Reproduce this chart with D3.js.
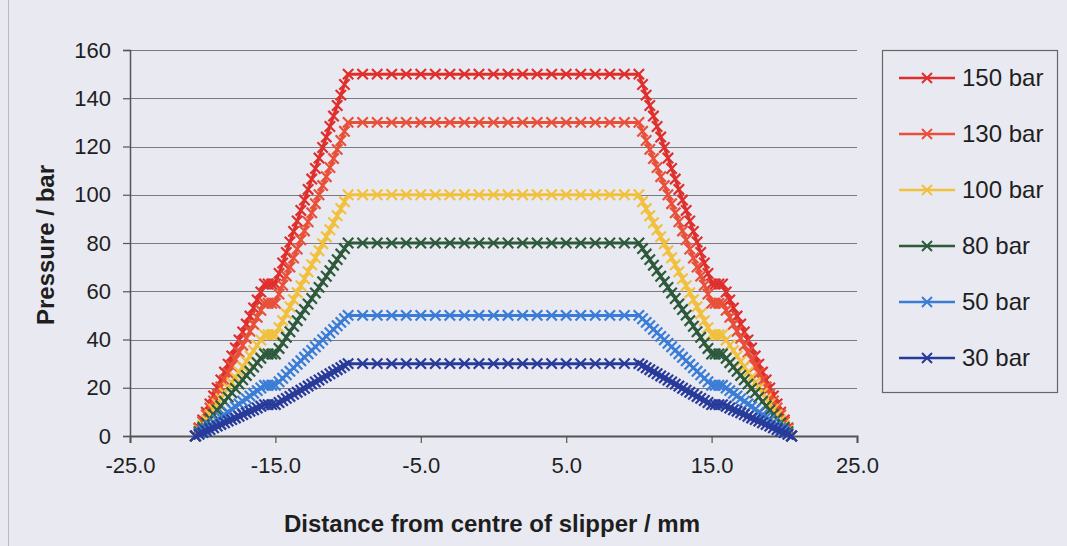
<!DOCTYPE html>
<html><head><meta charset="utf-8">
<script src="https://cdn.jsdelivr.net/npm/d3@7"></script>
<style>
html,body{margin:0;padding:0;background:#e9e9f1;}
svg{display:block;}
text{font-family:"Liberation Sans",Arial,sans-serif;fill:#1e1e1e;}
</style></head><body>
<svg id="chart" width="1067" height="546"></svg>
<script>
// ---- data ----
const distance = [
 -20.5,-20.25,-20,-19.75,-19.5,-19.25,-19,-18.75,-18.5,-18.25,-18,-17.75,-17.5,-17.25,-17,-16.75,-16.5,-16.25,-16,-15.75,
 -15.5,-15.25,-15,
 -14.75,-14.5,-14.25,-14,-13.75,-13.5,-13.25,-13,-12.75,-12.5,-12.25,-12,-11.75,-11.5,-11.25,-11,-10.75,-10.5,-10.25,
 -10,-9,-8,-7,-6,-5,-4,-3,-2,-1,0,1,2,3,4,5,6,7,8,9,10,
 10.25,10.5,10.75,11,11.25,11.5,11.75,12,12.25,12.5,12.75,13,13.25,13.5,13.75,14,14.25,14.5,14.75,
 15,15.25,15.5,
 15.75,16,16.25,16.5,16.75,17,17.25,17.5,17.75,18,18.25,18.5,18.75,19,19.25,19.5,19.75,20,20.25,20.5
];
const p150 = [
 0,3.3,6.6,9.9,13.3,16.6,19.9,23.2,26.5,29.8,33.2,36.5,39.8,43.1,46.4,49.7,53.1,56.4,59.7,63,
 63,63,63,
 67.4,71.7,76.1,80.4,84.8,89.1,93.5,97.8,102.2,106.5,110.9,115.2,119.6,123.9,128.3,132.6,137,141.3,145.7,
 150,150,150,150,150,150,150,150,150,150,150,150,150,150,150,150,150,150,150,150,150,
 145.7,141.3,137,132.6,128.3,123.9,119.6,115.2,110.9,106.5,102.2,97.8,93.5,89.1,84.8,80.4,76.1,71.7,67.4,
 63,63,63,
 63,59.7,56.4,53.1,49.7,46.4,43.1,39.8,36.5,33.2,29.8,26.5,23.2,19.9,16.6,13.3,9.9,6.6,3.3,0
];
const p130 = [
 0,2.9,5.8,8.7,11.6,14.5,17.4,20.3,23.2,26.1,28.9,31.8,34.7,37.6,40.5,43.4,46.3,49.2,52.1,55,
 55,55,55,
 58.8,62.5,66.3,70,73.8,77.5,81.3,85,88.8,92.5,96.3,100,103.8,107.5,111.3,115,118.8,122.5,126.3,
 130,130,130,130,130,130,130,130,130,130,130,130,130,130,130,130,130,130,130,130,130,
 126.3,122.5,118.8,115,111.3,107.5,103.8,100,96.3,92.5,88.8,85,81.3,77.5,73.8,70,66.3,62.5,58.8,
 55,55,55,
 55,52.1,49.2,46.3,43.4,40.5,37.6,34.7,31.8,28.9,26.1,23.2,20.3,17.4,14.5,11.6,8.7,5.8,2.9,0
];
const p100 = [
 0,2.2,4.4,6.6,8.8,11.1,13.3,15.5,17.7,19.9,22.1,24.3,26.5,28.7,30.9,33.2,35.4,37.6,39.8,42,
 42,42,42,
 44.9,47.8,50.7,53.6,56.5,59.4,62.3,65.2,68.1,71,73.9,76.8,79.7,82.6,85.5,88.4,91.3,94.2,97.1,
 100,100,100,100,100,100,100,100,100,100,100,100,100,100,100,100,100,100,100,100,100,
 97.1,94.2,91.3,88.4,85.5,82.6,79.7,76.8,73.9,71,68.1,65.2,62.3,59.4,56.5,53.6,50.7,47.8,44.9,
 42,42,42,
 42,39.8,37.6,35.4,33.2,30.9,28.7,26.5,24.3,22.1,19.9,17.7,15.5,13.3,11.1,8.8,6.6,4.4,2.2,0
];
const p80 = [
 0,1.8,3.6,5.4,7.2,8.9,10.7,12.5,14.3,16.1,17.9,19.7,21.5,23.3,25.1,26.8,28.6,30.4,32.2,34,
 34,34,34,
 36.3,38.6,40.9,43.2,45.5,47.8,50.1,52.4,54.7,57,59.3,61.6,63.9,66.2,68.5,70.8,73.1,75.4,77.7,
 80,80,80,80,80,80,80,80,80,80,80,80,80,80,80,80,80,80,80,80,80,
 77.7,75.4,73.1,70.8,68.5,66.2,63.9,61.6,59.3,57,54.7,52.4,50.1,47.8,45.5,43.2,40.9,38.6,36.3,
 34,34,34,
 34,32.2,30.4,28.6,26.8,25.1,23.3,21.5,19.7,17.9,16.1,14.3,12.5,10.7,8.9,7.2,5.4,3.6,1.8,0
];
const p50 = [
 0,1.1,2.2,3.3,4.4,5.5,6.6,7.7,8.8,9.9,11.1,12.2,13.3,14.4,15.5,16.6,17.7,18.8,19.9,21,
 21,21,21,
 22.5,23.9,25.4,26.8,28.3,29.7,31.2,32.6,34.1,35.5,37,38.4,39.9,41.3,42.8,44.2,45.7,47.1,48.6,
 50,50,50,50,50,50,50,50,50,50,50,50,50,50,50,50,50,50,50,50,50,
 48.6,47.1,45.7,44.2,42.8,41.3,39.9,38.4,37,35.5,34.1,32.6,31.2,29.7,28.3,26.8,25.4,23.9,22.5,
 21,21,21,
 21,19.9,18.8,17.7,16.6,15.5,14.4,13.3,12.2,11.1,9.9,8.8,7.7,6.6,5.5,4.4,3.3,2.2,1.1,0
];
const p30 = [
 0,0.7,1.4,2.1,2.7,3.4,4.1,4.8,5.5,6.2,6.8,7.5,8.2,8.9,9.6,10.3,10.9,11.6,12.3,13,
 13,13,13,
 13.9,14.7,15.6,16.4,17.3,18.1,19,19.8,20.7,21.5,22.4,23.2,24.1,24.9,25.8,26.6,27.5,28.3,29.2,
 30,30,30,30,30,30,30,30,30,30,30,30,30,30,30,30,30,30,30,30,30,
 29.2,28.3,27.5,26.6,25.8,24.9,24.1,23.2,22.4,21.5,20.7,19.8,19,18.1,17.3,16.4,15.6,14.7,13.9,
 13,13,13,
 13,12.3,11.6,10.9,10.3,9.6,8.9,8.2,7.5,6.8,6.2,5.5,4.8,4.1,3.4,2.7,2.1,1.4,0.7,0
];
const seriesNames = ["150 bar","130 bar","100 bar","80 bar","50 bar","30 bar"];
const seriesValues = [p150,p130,p100,p80,p50,p30];
const seriesColors = ["#df2f2c","#e8503a","#f1c13e","#2d5a3a","#3b7dd6","#293b9a"];
const xTicks = [-25,-15,-5,5,15,25];
const xTickLabels = ["-25.0","-15.0","-5.0","5.0","15.0","25.0"];
const yTicks = [0,20,40,60,80,100,120,140,160];

// ---- drawing ----
const svg = d3.select("#chart");
const x = d3.scaleLinear().domain([-25,25]).range([130,857]);
const y = d3.scaleLinear().domain([0,160]).range([436,50]);

// scan frame line on the left
svg.append("line").attr("x1",8.5).attr("x2",8.5).attr("y1",0).attr("y2",546)
  .attr("stroke","#b9b9c2").attr("stroke-width",1);

// gridlines
svg.append("g").selectAll("line").data(yTicks.filter(d=>d>0)).join("line")
  .attr("x1",x(-25)).attr("x2",x(25))
  .attr("y1",d=>Math.round(y(d))+0.5).attr("y2",d=>Math.round(y(d))+0.5)
  .attr("stroke","#7a7a80").attr("stroke-width",1.2);

// y axis
const yAxis = svg.append("g").attr("transform",`translate(${x(-25)},0)`)
  .call(d3.axisLeft(y).tickValues(yTicks).tickSize(7).tickPadding(12).tickFormat(d3.format("d")));
yAxis.select(".domain").attr("stroke","#555").attr("stroke-width",1.5);
yAxis.selectAll(".tick line").attr("stroke","#555").attr("stroke-width",1.2);
yAxis.selectAll("text").attr("font-size",22).attr("fill","#1e1e1e")
  .style("font-family","'Liberation Sans',Arial,sans-serif");

// x axis
const xAxis = svg.append("g").attr("transform",`translate(0,${y(0)})`)
  .call(d3.axisBottom(x).tickValues(xTicks).tickSize(7).tickPadding(14)
    .tickFormat((d,i)=>xTickLabels[i]));
xAxis.select(".domain").attr("stroke","#555").attr("stroke-width",2);
xAxis.selectAll(".tick line").attr("stroke","#555").attr("stroke-width",1.2);
xAxis.selectAll("text").attr("font-size",22).attr("fill","#1e1e1e")
  .style("font-family","'Liberation Sans',Arial,sans-serif");

// axis titles
svg.append("text").attr("x",492).attr("y",532).attr("text-anchor","middle")
  .attr("font-size",24).attr("font-weight","bold").text("Distance from centre of slipper / mm");
svg.append("text").attr("transform","translate(54,245) rotate(-90)").attr("text-anchor","middle")
  .attr("font-size",24).attr("font-weight","bold").text("Pressure / bar");

// series
const line = d3.line().x(d=>x(d[0])).y(d=>y(d[1]));
const crossPath = (s)=>`M${-s},${-s}L${s},${s}M${-s},${s}L${s},${-s}`;
seriesValues.forEach((vals,i)=>{
  const pts = distance.map((d,k)=>[d,vals[k]]);
  const g = svg.append("g");
  g.append("path").datum(pts).attr("d",line).attr("fill","none")
    .attr("stroke",seriesColors[i]).attr("stroke-width",3);
  g.selectAll("path.m").data(pts).join("path").attr("class","m")
    .attr("transform",d=>`translate(${x(d[0])},${y(d[1])})`)
    .attr("d",crossPath(5.2)).attr("fill","none")
    .attr("stroke",seriesColors[i]).attr("stroke-width",2.2);
});

// legend
const lg = svg.append("g");
lg.append("rect").attr("x",882.5).attr("y",50.5).attr("width",175).attr("height",342)
  .attr("fill","#e9e9f1").attr("stroke","#666").attr("stroke-width",1.2);
seriesNames.forEach((name,i)=>{
  const ly = 78 + i*56;
  lg.append("line").attr("x1",899).attr("x2",955).attr("y1",ly).attr("y2",ly)
    .attr("stroke",seriesColors[i]).attr("stroke-width",2.5);
  lg.append("path").attr("transform",`translate(927,${ly})`).attr("d",crossPath(5))
    .attr("fill","none").attr("stroke",seriesColors[i]).attr("stroke-width",2);
  lg.append("text").attr("x",962).attr("y",ly+8).attr("font-size",24).text(name);
});
</script>
</body></html>
